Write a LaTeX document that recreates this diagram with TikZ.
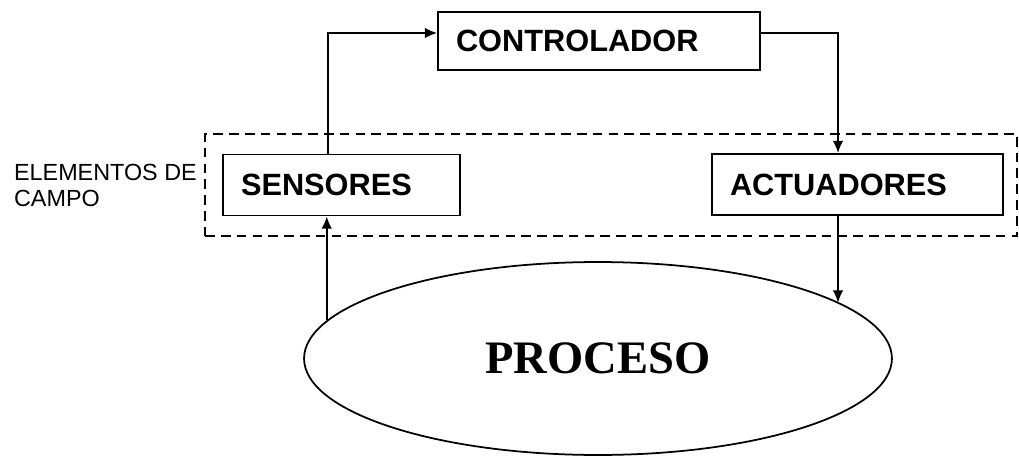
\documentclass[tikz,border=0pt]{standalone}
\usepackage{fontspec}
\setsansfont{Liberation Sans}
\newfontfamily\procfont{Liberation Serif}
\usepackage{tikz}
\usetikzlibrary{arrows.meta,positioning,shapes.geometric}

\tikzset{
  blk/.style={draw,line width=1pt,inner xsep=0.36cm,inner ysep=0pt,align=left,
    font=\sffamily\bfseries\fontsize{17.5}{20}\selectfont},
  arr/.style={line width=1pt,-{Latex[length=7pt,width=6pt]}}
}

\begin{document}
\begin{tikzpicture}[x=0.02cm,y=-0.02cm]
\useasboundingbox (0,0) rectangle (1019,457);
\node[blk,text width=5.72cm,minimum height=1.16cm] (ctrl) at (599,41) {CONTROLADOR};
\node[blk,text width=4.02cm,minimum height=1.22cm] (sens) at (341.5,185) {SENSORES};
\node[blk,text width=5.10cm,minimum height=1.22cm] (act) at (857.5,184.5) {ACTUADORES};
\node[draw,line width=1.1pt,dash pattern=on 5.5pt off 3.5pt,minimum width=16.24cm,minimum height=2.04cm,inner sep=0] (field) at (611,185) {};
\node[left=0.14cm of field,inner sep=0,align=left,font=\sffamily\fontsize{13.3}{14.8}\selectfont] (lbl) {ELEMENTOS DE\\CAMPO};
\node[draw,ellipse,line width=1pt,minimum width=11.76cm,minimum height=3.86cm,inner sep=0,
  font=\procfont\bfseries\fontsize{26.5}{30}\selectfont] (proc) at (598,358.5) {PROCESO};
\coordinate (lt) at (328,33);
\coordinate (rt) at (838,33);
% lazo de control
\draw[arr] (proc.172) -- (proc.172 |- sens.south);
\draw[arr] (sens.north -| lt) -- (lt) -- (lt -| ctrl.west);
\draw[arr] (lt -| ctrl.east) -- (rt) -- (rt |- act.north);
\draw[arr] (act.south -| rt) -- (rt |- proc.13);
\end{tikzpicture}
\end{document}
